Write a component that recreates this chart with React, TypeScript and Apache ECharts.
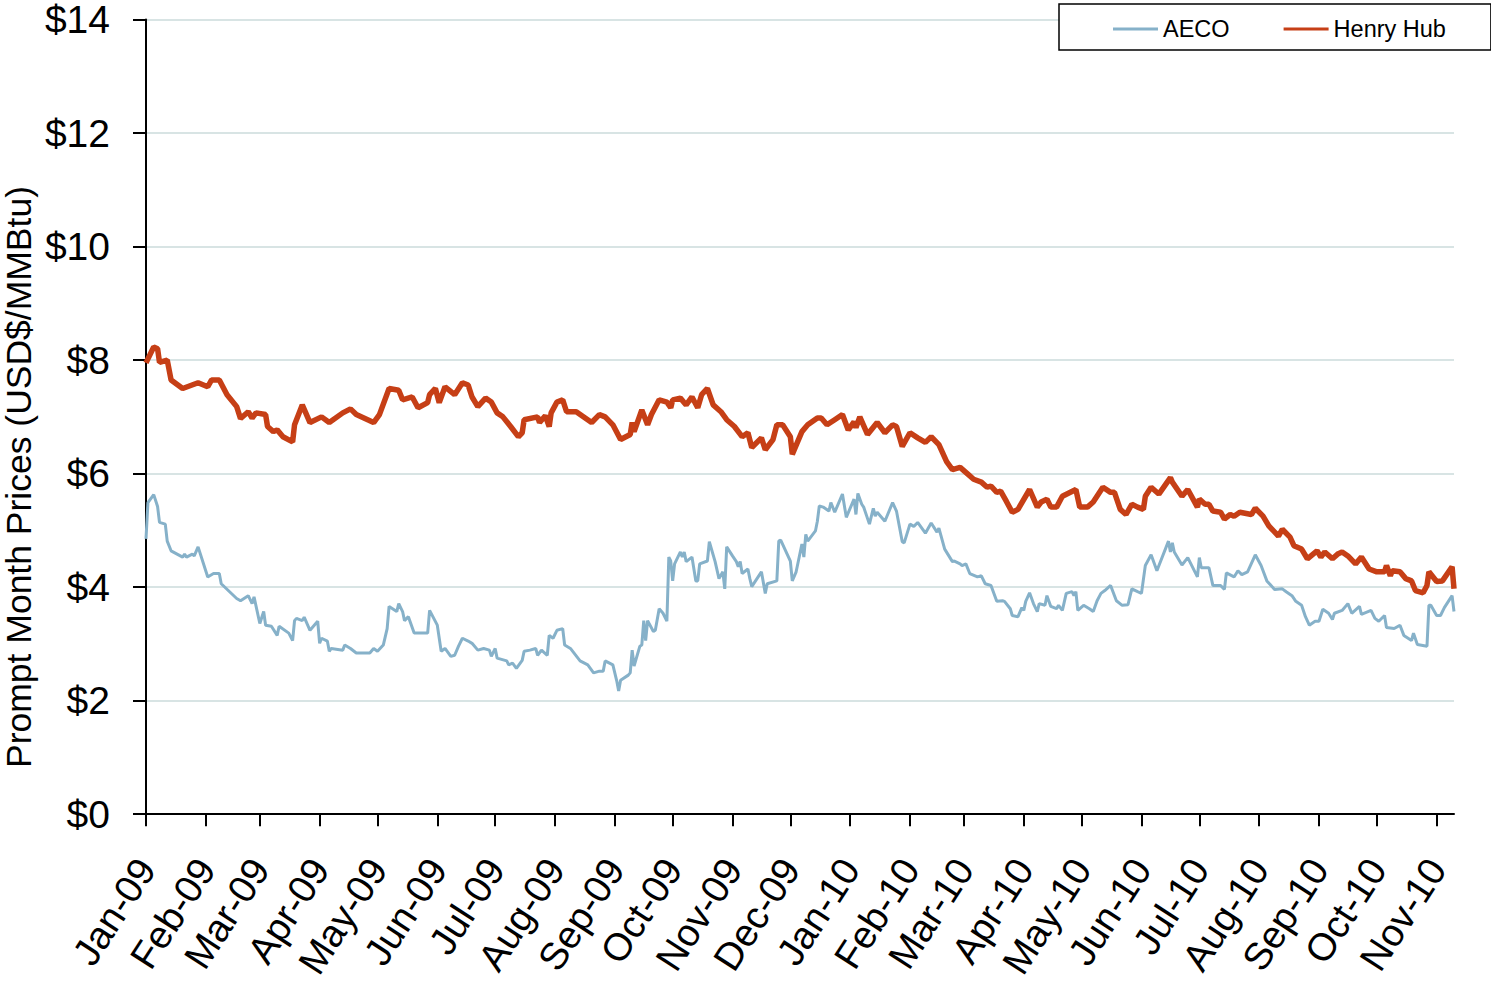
import React, { useEffect, useRef } from "react";
import * as echarts from "echarts";

// Days are counted from 1 Jan 2009.
const monthLabels = [
  "Jan-09", "Feb-09", "Mar-09", "Apr-09", "May-09", "Jun-09", "Jul-09", "Aug-09", "Sep-09", "Oct-09", "Nov-09", "Dec-09",
  "Jan-10", "Feb-10", "Mar-10", "Apr-10", "May-10", "Jun-10", "Jul-10", "Aug-10", "Sep-10", "Oct-10", "Nov-10",
];
const lastDay = 678;

const yTicks = [0, 2, 4, 6, 8, 10, 12, 14];

const hhDays = [
  0, 4, 6, 7, 11, 13, 19, 27, 32, 34, 38, 42, 47, 49, 53, 55, 57, 62, 63, 66, 68, 71, 76, 77, 81, 85, 91, 95, 102, 106,
  109, 118, 121, 126, 131, 133, 138, 141, 146, 147, 150, 152, 155, 160, 164, 167, 169, 172, 176, 179, 182, 185, 189, 193,
  195, 196, 203, 204, 207, 209, 210, 213, 216, 218, 223, 231, 235, 238, 242, 246, 251, 252, 253, 257, 260, 262, 266, 270,
  272, 273, 277, 280, 283, 286, 288, 291, 294, 298, 301, 305, 309, 312, 314, 319, 321, 325, 327, 330, 334, 335, 340, 343,
  348, 350, 353, 357, 361, 364, 367, 368, 370, 374, 379, 383, 387, 389, 392, 396, 400, 404, 407, 411, 415, 418, 422, 426,
  429, 433, 436, 438, 441, 443, 446, 449, 452, 458, 462, 464, 467, 469, 472, 475, 482, 484, 488, 491, 496, 500, 502, 505,
  508, 511, 514, 517, 518, 521, 525, 531, 532, 537, 540, 545, 546, 549, 551, 553, 557, 559, 562, 564, 567, 573, 575, 579,
  582, 587, 589, 593, 595, 599, 602, 607, 609, 611, 615, 618, 620, 623, 627, 630, 634, 638, 642, 643, 645, 646, 650, 653,
  656, 658, 662, 664, 665, 669, 672, 677, 678,
];
const hhValues = [
  7.95, 8.23, 8.2, 7.96, 8.0, 7.65, 7.5, 7.6, 7.53, 7.65, 7.65, 7.39, 7.18, 6.97, 7.09, 6.98, 7.07, 7.04, 6.83, 6.74, 6.77,
  6.65, 6.56, 6.86, 7.21, 6.9, 7.0, 6.9, 7.07, 7.14, 7.04, 6.9, 7.04, 7.5, 7.47, 7.3, 7.35, 7.16, 7.25, 7.39, 7.5, 7.25,
  7.53, 7.39, 7.6, 7.56, 7.35, 7.18, 7.33, 7.26, 7.07, 7.0, 6.83, 6.65, 6.72, 6.95, 7.0, 6.9, 7.02, 6.83, 7.07, 7.26, 7.3,
  7.09, 7.09, 6.9, 7.04, 7.0, 6.86, 6.6, 6.69, 6.9, 6.74, 7.12, 6.86, 7.04, 7.3, 7.26, 7.16, 7.3, 7.33, 7.21, 7.35, 7.16,
  7.39, 7.5, 7.21, 7.09, 6.95, 6.83, 6.65, 6.72, 6.46, 6.63, 6.42, 6.6, 6.86, 6.86, 6.65, 6.34, 6.74, 6.86, 6.98, 6.98,
  6.86, 6.95, 7.04, 6.77, 6.91, 6.81, 7.0, 6.69, 6.9, 6.72, 6.86, 6.83, 6.48, 6.72, 6.63, 6.55, 6.65, 6.51, 6.21, 6.07,
  6.11, 5.99, 5.9, 5.85, 5.76, 5.78, 5.67, 5.69, 5.51, 5.32, 5.37, 5.72, 5.41, 5.5, 5.55, 5.41, 5.41, 5.6, 5.72, 5.41, 5.41,
  5.5, 5.76, 5.67, 5.67, 5.37, 5.28, 5.46, 5.41, 5.37, 5.6, 5.76, 5.64, 5.93, 5.85, 5.6, 5.72, 5.41, 5.55, 5.46, 5.46, 5.34,
  5.32, 5.2, 5.28, 5.25, 5.32, 5.28, 5.39, 5.25, 5.08, 4.9, 5.02, 4.88, 4.73, 4.67, 4.5, 4.64, 4.53, 4.62, 4.5, 4.59, 4.62,
  4.55, 4.41, 4.53, 4.32, 4.27, 4.27, 4.38, 4.2, 4.29, 4.27, 4.15, 4.11, 3.94, 3.9, 4.03, 4.27, 4.1, 4.11, 4.36, 3.97,
];

const aecoDays = [
  0, 1, 4, 6, 7, 10, 11, 13, 19, 20, 21, 24, 25, 27, 32, 35, 38, 39, 47, 49, 53, 55, 56, 59, 61, 62, 65, 68, 69, 74, 76,
  77, 78, 81, 82, 85, 89, 90, 91, 94, 95, 96, 102, 103, 106, 109, 116, 118, 120, 123, 125, 126, 130, 131, 133, 134, 136,
  139, 146, 147, 151, 153, 155, 158, 160, 162, 164, 167, 169, 172, 175, 178, 179, 181, 182, 187, 188, 190, 192, 195, 196,
  199, 202, 203, 205, 208, 209, 211, 213, 216, 217, 220, 225, 229, 232, 235, 237, 238, 242, 244, 245, 246, 250, 251, 252,
  253, 256, 257, 258, 259, 260, 263, 264, 266, 268, 270, 271, 272, 273, 274, 277, 278, 279, 280, 283, 285, 286, 287, 291,
  292, 295, 297, 299, 300, 301, 304, 306, 307, 308, 309, 312, 313, 314, 319, 321, 322, 327, 328, 329, 334, 335, 337, 340,
  341, 342, 343, 347, 348, 349, 351, 354, 355, 357, 361, 363, 367, 368, 369, 371, 372, 375, 377, 378, 379, 383, 387, 389,
  392, 393, 396, 398, 400, 404, 407, 410, 411, 414, 418, 419, 422, 423, 425, 427, 431, 433, 435, 438, 441, 444, 445, 448,
  449, 452, 454, 455, 456, 458, 460, 462, 463, 466, 467, 469, 472, 473, 475, 477, 480, 481, 482, 483, 486, 489, 491, 493,
  495, 497, 500, 503, 506, 509, 511, 514, 516, 518, 521, 524, 530, 531, 532, 533, 537, 540, 545, 546, 547, 551, 553, 557,
  559, 560, 564, 566, 568, 571, 575, 578, 581, 585, 589, 591, 594, 596, 599, 601, 603, 606, 608, 610, 613, 615, 616, 620,
  623, 625, 629, 630, 635, 637, 639, 642, 643, 647, 650, 652, 656, 657, 659, 664, 665, 666, 669, 671, 673, 677, 678,
];
const aecoValues = [
  4.85, 5.49, 5.63, 5.42, 5.14, 5.11, 4.81, 4.64, 4.53, 4.58, 4.53, 4.58, 4.55, 4.71, 4.18, 4.24, 4.24, 4.06, 3.8, 3.76,
  3.85, 3.71, 3.83, 3.36, 3.57, 3.33, 3.31, 3.15, 3.31, 3.19, 3.06, 3.41, 3.45, 3.41, 3.47, 3.24, 3.4, 3.01, 3.1, 3.05,
  2.87, 2.92, 2.89, 2.98, 2.92, 2.84, 2.84, 2.92, 2.87, 2.98, 3.27, 3.66, 3.57, 3.71, 3.57, 3.41, 3.48, 3.19, 3.19, 3.59,
  3.33, 2.87, 2.92, 2.78, 2.8, 2.96, 3.1, 3.05, 3.01, 2.89, 2.92, 2.89, 2.78, 2.92, 2.75, 2.7, 2.63, 2.66, 2.57, 2.71, 2.87,
  2.89, 2.92, 2.8, 2.89, 2.8, 3.15, 3.1, 3.24, 3.27, 2.98, 2.92, 2.7, 2.63, 2.49, 2.52, 2.52, 2.7, 2.63, 2.35, 2.17, 2.36,
  2.45, 2.49, 2.89, 2.61, 2.96, 2.98, 3.41, 3.06, 3.41, 3.22, 3.24, 3.62, 3.54, 3.4, 4.53, 4.46, 4.11, 4.41, 4.62, 4.53,
  4.62, 4.45, 4.53, 4.11, 4.11, 4.41, 4.46, 4.8, 4.45, 4.15, 4.27, 3.97, 4.71, 4.55, 4.45, 4.36, 4.45, 4.24, 4.32, 4.15,
  4.01, 4.27, 3.89, 4.06, 4.11, 4.81, 4.83, 4.46, 4.11, 4.27, 4.76, 4.53, 4.93, 4.81, 4.99, 5.16, 5.43, 5.41, 5.34, 5.49,
  5.32, 5.64, 5.23, 5.55, 5.28, 5.65, 5.46, 5.41, 5.11, 5.39, 5.25, 5.32, 5.16, 5.49, 5.34, 4.8, 4.78, 5.11, 5.07, 5.14,
  4.95, 5.13, 4.97, 5.04, 4.67, 4.45, 4.46, 4.41, 4.38, 4.41, 4.24, 4.18, 4.2, 4.06, 4.03, 3.75, 3.76, 3.75, 3.62, 3.5,
  3.48, 3.64, 3.59, 3.75, 3.9, 3.71, 3.57, 3.71, 3.68, 3.85, 3.66, 3.62, 3.68, 3.59, 3.89, 3.92, 3.85, 3.92, 3.59, 3.68,
  3.62, 3.57, 3.76, 3.89, 3.94, 4.03, 3.76, 3.68, 3.69, 3.97, 3.92, 3.89, 4.38, 4.57, 4.29, 4.81, 4.62, 4.78, 4.62, 4.39,
  4.52, 4.18, 4.52, 4.34, 4.34, 4.03, 4.03, 3.96, 4.25, 4.18, 4.29, 4.22, 4.27, 4.57, 4.38, 4.11, 3.96, 3.97, 3.92, 3.85,
  3.75, 3.68, 3.48, 3.33, 3.4, 3.4, 3.61, 3.54, 3.43, 3.54, 3.59, 3.71, 3.54, 3.66, 3.52, 3.59, 3.45, 3.4, 3.5, 3.29, 3.27,
  3.33, 3.15, 3.06, 3.19, 2.99, 2.96, 3.68, 3.68, 3.5, 3.5, 3.64, 3.85, 3.57,
];

const FONT = "'Liberation Sans', Arial, sans-serif";

export default function App() {
  const ref = useRef<HTMLDivElement>(null);

  useEffect(() => {
    if (!ref.current) return;
    const chart = echarts.init(ref.current, null, { renderer: "svg" });

    const base = Date.UTC(2009, 0, 1);
    const monthDays = monthLabels.map((_, i) => Math.round((Date.UTC(2009, i, 1) - base) / 86400000));
    const labelByDay: Record<number, string> = {};
    monthDays.forEach((d, i) => (labelByDay[d] = monthLabels[i]));

    const hhData = hhDays.map((d, i) => [d, hhValues[i]]);
    const aecoData = aecoDays.map((d, i) => [d, aecoValues[i]]);

    chart.setOption({
      animation: false,
      backgroundColor: "#ffffff",
      grid: { left: 146, top: 17, width: 1308, height: 800, containLabel: false },
      legend: {
        left: 1059,
        top: 4,
        padding: [13, 45, 9, 54],
        itemGap: 54,
        itemWidth: 45,
        itemHeight: 3,
        icon: "rect",
        borderColor: "#000",
        borderWidth: 1.5,
        backgroundColor: "#fff",
        textStyle: { fontSize: 23.5, color: "#000", fontFamily: FONT },
        data: ["AECO", "Henry Hub"],
      },
      xAxis: {
        type: "value",
        min: 0,
        max: lastDay,
        splitLine: { show: false },
        axisLine: { show: true, onZero: false, lineStyle: { color: "#000", width: 2 } },
        axisTick: {
          show: true,
          length: 12,
          lineStyle: { color: "#000", width: 2 },
          customValues: monthDays,
        },
        axisLabel: {
          customValues: monthDays,
          rotate: 57,
          margin: 48,
          fontSize: 38.5,
          color: "#000",
          fontFamily: FONT,
          formatter: (v: number) => labelByDay[v] ?? "",
        },
      },
      yAxis: {
        type: "value",
        min: 0,
        max: 14,
        interval: 2,
        axisLine: { show: true, lineStyle: { color: "#000", width: 2 } },
        axisTick: { show: true, length: 13, lineStyle: { color: "#000", width: 2 } },
        splitLine: { show: true, lineStyle: { color: "#d8e4e4", width: 2 } },
        axisLabel: {
          margin: 36,
          fontSize: 39,
          color: "#000",
          fontFamily: FONT,
          formatter: (v: number) => (yTicks.includes(v) ? "$" + v : ""),
        },
      },
      graphic: [
        {
          type: "text",
          x: 19,
          y: 477,
          rotation: Math.PI / 2,
          style: {
            text: "Prompt Month Prices (USD$/MMBtu)",
            fontSize: 35.5,
            fontFamily: FONT,
            fill: "#000",
            align: "center",
            verticalAlign: "middle",
          },
        },
      ],
      series: [
        {
          name: "AECO",
          type: "line",
          data: aecoData,
          showSymbol: false,
          symbol: "none",
          lineStyle: { color: "#86b1c9", width: 3 },
          itemStyle: { color: "#86b1c9" },
          z: 2,
        },
        {
          name: "Henry Hub",
          type: "line",
          data: hhData,
          showSymbol: false,
          symbol: "none",
          lineStyle: { color: "#c63f16", width: 5.5 },
          itemStyle: { color: "#c63f16" },
          z: 3,
        },
      ],
    });

    return () => chart.dispose();
  }, []);

  return (
    <div
      ref={ref}
      style={{ position: "fixed", left: 0, top: 0, width: 1491, height: 983, background: "#fff" }}
    />
  );
}
